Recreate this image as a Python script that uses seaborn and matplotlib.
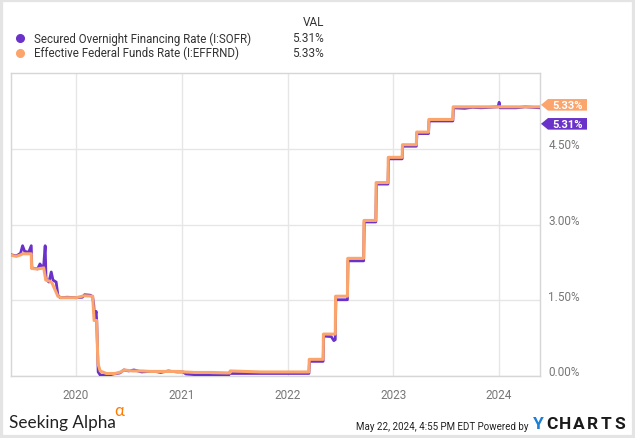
import matplotlib
matplotlib.use("Agg")
import matplotlib.pyplot as plt
import matplotlib.dates as mdates
import numpy as np
import pandas as pd
import seaborn as sns
from matplotlib.patches import Polygon, Rectangle
from matplotlib.lines import Line2D
from matplotlib.transforms import ScaledTranslation, IdentityTransform

# ---------------- data ----------------
series_names = ["Secured Overnight Financing Rate (I:SOFR)",
                "Effective Federal Funds Rate (I:EFFRND)"]
latest_values = [5.31, 5.33]
latest_labels = ["5.31%", "5.33%"]

sofr_dates = [
    "2019-05-22", "2019-06-10", "2019-06-24", "2019-07-01", "2019-07-08", "2019-07-22",
    "2019-07-31", "2019-08-02", "2019-08-22", "2019-08-30", "2019-09-06", "2019-09-12",
    "2019-09-17", "2019-09-20", "2019-09-30", "2019-10-08", "2019-10-14", "2019-10-25",
    "2019-10-31", "2019-11-08", "2019-12-02", "2020-01-02", "2020-01-24", "2020-01-31",
    "2020-02-20", "2020-02-28", "2020-03-03", "2020-03-06", "2020-03-11", "2020-03-13",
    "2020-03-18", "2020-03-25", "2020-04-20", "2020-05-10", "2020-06-01", "2020-06-15",
    "2020-07-01", "2020-07-20", "2020-08-15", "2020-09-10", "2020-10-01", "2020-10-20",
    "2020-11-15", "2020-12-15", "2021-01-05", "2021-01-15", "2021-03-01", "2021-04-15",
    "2021-06-10", "2021-06-17", "2021-09-01", "2021-11-15", "2022-01-10", "2022-03-16",
    "2022-03-18", "2022-05-04", "2022-05-06", "2022-06-01", "2022-06-10", "2022-06-15",
    "2022-06-17", "2022-07-27", "2022-07-29", "2022-09-21", "2022-09-23", "2022-11-02",
    "2022-11-04", "2022-12-14", "2022-12-16", "2023-02-01", "2023-02-03", "2023-03-22",
    "2023-03-24", "2023-05-03", "2023-05-05", "2023-07-26", "2023-07-28", "2023-09-05",
    "2023-10-02", "2023-11-01", "2023-12-29", "2024-01-02", "2024-01-05", "2024-03-01",
    "2024-04-01", "2024-05-22",
]
sofr_values = [
    2.40, 2.38, 2.43, 2.58, 2.47, 2.45,
    2.58, 2.14, 2.12, 2.22, 2.16, 2.20,
    2.58, 1.92, 1.86, 2.06, 1.90, 1.86,
    1.60, 1.55, 1.56, 1.55, 1.56, 1.61,
    1.60, 1.57, 1.40, 1.12, 1.28, 1.10,
    0.08, 0.02, 0.01, 0.04, 0.06, 0.12,
    0.10, 0.12, 0.08, 0.09, 0.09, 0.07,
    0.10, 0.08, 0.08, 0.04, 0.02, 0.01,
    0.01, 0.05, 0.05, 0.05, 0.05, 0.05,
    0.29, 0.29, 0.79, 0.78, 0.70, 0.72,
    1.51, 1.51, 2.28, 2.28, 3.05, 3.05,
    3.80, 3.80, 4.30, 4.30, 4.55, 4.55,
    4.80, 4.80, 5.05, 5.05, 5.31, 5.30,
    5.32, 5.31, 5.33, 5.42, 5.31, 5.31,
    5.33, 5.31,
]

effr_dates = [
    "2019-05-22", "2019-06-10", "2019-06-25", "2019-07-01", "2019-07-31", "2019-08-01",
    "2019-08-20", "2019-09-01", "2019-09-12", "2019-09-19", "2019-10-01", "2019-10-10",
    "2019-10-31", "2019-11-10", "2020-01-02", "2020-01-30", "2020-02-28", "2020-03-04",
    "2020-03-13", "2020-03-17", "2020-03-25", "2020-04-15", "2020-05-15", "2020-06-05",
    "2020-06-15", "2020-07-15", "2020-08-15", "2020-09-15", "2020-10-15", "2020-11-15",
    "2020-12-20", "2021-01-10", "2021-02-15", "2021-03-15", "2021-04-15", "2021-06-16",
    "2021-06-17", "2021-10-01", "2022-01-01", "2022-03-16", "2022-03-17", "2022-05-04",
    "2022-05-05", "2022-06-15", "2022-06-16", "2022-07-27", "2022-07-28", "2022-09-21",
    "2022-09-22", "2022-11-02", "2022-11-03", "2022-12-14", "2022-12-15", "2023-02-01",
    "2023-02-02", "2023-03-22", "2023-03-23", "2023-05-03", "2023-05-04", "2023-07-26",
    "2023-07-27", "2024-05-22",
]
effr_values = [
    2.39, 2.37, 2.40, 2.42, 2.42, 2.13,
    2.12, 2.13, 2.14, 1.90, 1.88, 1.85,
    1.58, 1.55, 1.55, 1.59, 1.58, 1.10,
    1.10, 0.25, 0.10, 0.05, 0.05, 0.08,
    0.12, 0.10, 0.10, 0.09, 0.09, 0.09,
    0.09, 0.08, 0.07, 0.07, 0.07, 0.06,
    0.10, 0.08, 0.08, 0.08, 0.33, 0.33,
    0.83, 0.83, 1.58, 1.58, 2.33, 2.33,
    3.08, 3.08, 3.83, 3.83, 4.33, 4.33,
    4.58, 4.58, 4.83, 4.83, 5.08, 5.08,
    5.33, 5.33,
]

x_range = ["2019-05-22", "2024-05-22"]
year_ticks = ["2020-01-01", "2021-01-01", "2022-01-01", "2023-01-01", "2024-01-01"]
year_labels = ["2020", "2021", "2022", "2023", "2024"]
y_ticks = [0.0, 1.5, 3.0, 4.5]
y_tick_labels = ["0.00%", "1.50%", "3.00%", "4.50%"]
y_range = [0.0, 6.0]

# ---------------- style ----------------
PURPLE = "#6a32c9"
ORANGE = "#fba46c"
colors = [PURPLE, ORANGE]

sns.set_theme(style="white")
plt.rcParams["font.family"] = ["Roboto", "DejaVu Sans"]

W, H = 635, 439
fig = plt.figure(figsize=(W / 100, H / 100), dpi=100)
fig.patch.set_facecolor("white")

ax = fig.add_axes([11 / W, 1 - 377 / H, (540 - 11) / W, (377 - 74) / H])

df_sofr = pd.DataFrame({"date": pd.to_datetime(sofr_dates), "rate": sofr_values})
df_effr = pd.DataFrame({"date": pd.to_datetime(effr_dates), "rate": effr_values})

sns.lineplot(data=df_sofr, x="date", y="rate", color=PURPLE, linewidth=2.0,
             estimator=None, ax=ax, zorder=3)
sns.lineplot(data=df_effr, x="date", y="rate", color=ORANGE, linewidth=2.2,
             estimator=None, ax=ax, zorder=4)

ax.set_xlim(pd.to_datetime(x_range[0]), pd.to_datetime(x_range[1]))
ax.set_ylim(*y_range)
ax.set_xlabel("")
ax.set_ylabel("")

ax.set_xticks(pd.to_datetime(year_ticks))
ax.set_xticklabels(year_labels)
ax.yaxis.tick_right()
ax.set_yticks(y_ticks)
ax.set_yticklabels(y_tick_labels)
ax.tick_params(axis="x", length=0, pad=9, labelsize=8.5, labelcolor="#777777")
ax.tick_params(axis="y", length=0, pad=6, labelsize=8.5, labelcolor="#777777")
for lbl in ax.get_yticklabels():
    lbl.set_transform(lbl.get_transform() + ScaledTranslation(0, 0.055, fig.dpi_scale_trans))

ax.grid(True, color="#e6e6e6", linewidth=1.0)
ax.set_axisbelow(True)
for sp in ax.spines.values():
    sp.set_color("#d6d6d6")
    sp.set_linewidth(1.0)

# ---------------- value tags on the right ----------------
fig.canvas.draw()
x0 = mdates.date2num(pd.to_datetime(x_range[1]))
y_or = ax.transData.transform((x0, latest_values[1]))[1] + 2
y_pu = y_or - 19
tag_left = ax.transAxes.transform((1, 0))[0] + 1
for yc, col, txt in [(y_or, ORANGE, latest_labels[1]), (y_pu, PURPLE, latest_labels[0])]:
    hh = 5.8
    pts = [(tag_left, yc), (tag_left + 7, yc + hh), (tag_left + 46, yc + hh),
           (tag_left + 46, yc - hh), (tag_left + 7, yc - hh)]
    poly = Polygon(pts, closed=True, facecolor=col, edgecolor="none",
                   transform=IdentityTransform(), zorder=10)
    fig.add_artist(poly)
    fig.text((tag_left + 27) / W, yc / H, txt, ha="center", va="center",
             color="white", fontsize=8, fontweight="bold", zorder=11)

# ---------------- legend ----------------
fig.text(324 / W, 1 - 23 / H, "VAL", ha="right", va="center", fontsize=8.5, color="#333333")
for i, (name, col, val) in enumerate(zip(series_names, colors, latest_labels)):
    yy = 1 - (39 + 14.5 * i) / H
    fig.add_artist(Line2D([20 / W], [yy], marker="o", markersize=5.5, color=col,
                          transform=fig.transFigure))
    fig.text(34 / W, yy, name, ha="left", va="center", fontsize=8.3, color="#333333")
    fig.text(324 / W, yy, val, ha="right", va="center", fontsize=8.5, color="#333333")

# ---------------- footer ----------------
fig.text(9 / W, 1 - 428 / H, "Seeking Alpha", ha="left", va="baseline",
         fontsize=12.3, color="#222222", family=["Lato", "DejaVu Sans"])
fig.text(114 / W, 1 - 416 / H, "α", ha="left", va="baseline",
         fontsize=12, color="#ff7a00", family=["Lato", "DejaVu Sans"])
fig.text(528 / W, 1 - 427 / H, "May 22, 2024, 4:55 PM EDT Powered by", ha="right",
         va="center", fontsize=7.0, color="#222222")
logo = "YCHARTS"
for i, ch in enumerate(logo):
    fig.text((538 + 13.6 * i) / W, 1 - 425 / H, ch, ha="center", va="center",
             fontsize=12.5, fontweight="bold",
             color="#1d7fd6" if i == 0 else "#1a1a1a")

# frame around the whole picture
fig.add_artist(Rectangle((0, 0), 1, 1, transform=fig.transFigure, fill=False,
                         edgecolor="#e4e4e4", linewidth=4.5, zorder=20))

fig.savefig("out.png", dpi=100, facecolor="white")
